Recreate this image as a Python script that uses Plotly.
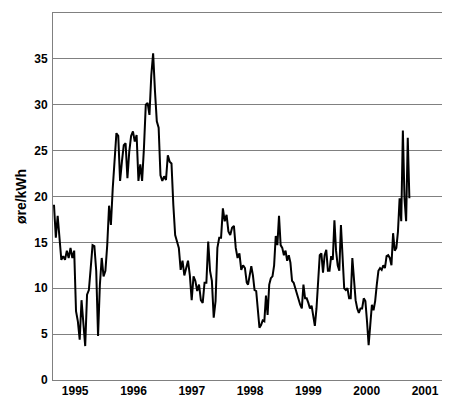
import numpy as np
import plotly.graph_objects as go

# weekly price, ore/kWh
price_a = [19.1, 15.5, 17.9, 15.1, 13.1, 13.5, 13.1, 14.1, 13.3, 14.4, 13.3, 14.1, 7.5, 6.4, 4.4, 8.7,
           6.4, 3.7, 9.3, 9.8, 12.2, 14.7, 14.6, 11.9, 4.8, 10.4, 13.3, 11.3, 11.9, 14.7, 19.0, 16.9,
           20.9, 23.5, 26.9, 26.6, 21.7, 23.8, 25.6, 25.8, 22.0, 24.9, 26.6, 27.1, 26.0, 26.7, 21.7,
           23.5, 21.7, 25.3, 30.0, 30.2, 28.9, 33.2, 35.6, 31.5, 28.2, 27.5, 22.3, 21.7, 22.2, 21.8,
           24.5, 23.8, 23.6, 19.1, 15.8, 15.1, 14.4, 12.0, 13.0, 11.4, 12.2, 13.0, 11.4, 8.7, 11.3,
           10.8, 9.7, 10.4, 8.7, 8.4, 10.6, 10.6, 15.1, 11.9, 10.8, 6.8, 8.6, 14.4, 15.5, 15.5, 18.7,
           17.3, 18.0, 16.2, 15.8, 16.6, 16.8, 14.4, 13.3, 13.8, 12.0, 12.5, 12.2, 10.6]
price_b = [10.4, 11.3, 12.4, 11.4, 9.8, 9.7, 7.5, 5.7, 6.0, 6.5, 6.4, 9.2, 7.1, 10.4, 11.1, 11.3,
           12.5, 15.7, 14.7, 17.9, 14.7, 14.4, 13.6, 14.1, 13.0, 13.6, 12.8, 10.8, 10.6, 10.0, 9.2,
           8.7, 8.2, 7.8, 10.4, 8.9, 8.9, 8.4, 7.8, 8.1, 6.8, 5.9, 7.8, 11.4, 13.6, 13.8, 11.7, 13.6,
           14.2, 11.9, 11.9, 13.5, 13.1, 17.4, 14.1, 12.5, 11.9, 16.9, 13.0, 10.0, 9.8, 10.0, 8.9, 8.9,
           13.3, 10.4, 8.7, 7.8, 7.3, 7.8, 7.8, 8.9, 8.6, 6.4, 3.8, 6.0, 8.2, 7.6, 8.6, 10.4, 11.9,
           12.2, 12.0, 12.5, 12.2, 13.5, 13.6, 13.3, 12.5, 16.0, 14.1, 14.4, 16.2, 19.8, 17.3, 27.2,
           19.8, 17.3, 26.4, 19.8]
years = [1995, 1996, 1997, 1998, 1999, 2000, 2001]

t_a = np.linspace(1995.137, 1998.443, len(price_a))
t_b = np.linspace(1998.465, 2001.232, len(price_b))
t = np.concatenate([t_a, t_b])
price = price_a + price_b

fig = go.Figure()
fig.add_trace(go.Scatter(x=t, y=price, mode="lines",
                         line=dict(color="black", width=2)))

font = dict(family="Liberation Sans", size=12, color="black", weight="bold")
fig.update_layout(
    width=450, height=405, showlegend=False,
    plot_bgcolor="white", paper_bgcolor="white",
    margin=dict(l=45, r=5, t=5, b=33, autoexpand=False),
    font=font,
)
fig.update_xaxes(range=[1995.12, 2001.98], tickvals=[y + 0.5 for y in years],
                 ticktext=[str(y) for y in years], showgrid=False, automargin=False,
                 showline=True, linecolor="#808080", mirror=True, ticks="",
                 tickfont=dict(size=12), zeroline=False)
fig.update_yaxes(range=[0, 40], dtick=5, showgrid=True, gridcolor="#808080",
                 showline=True, linecolor="#808080", mirror=True, zeroline=False,
                 automargin=False, ticklabelstandoff=2,
                 title=dict(text="øre/kWh", standoff=4), tickfont=dict(size=12))

fig.write_html("out.html")
